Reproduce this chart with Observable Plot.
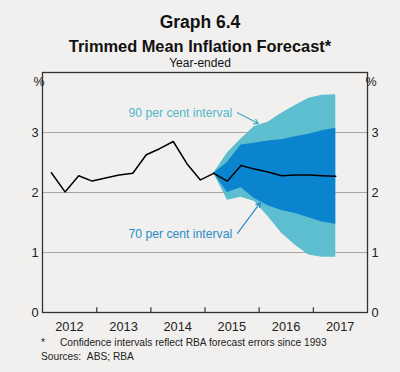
<!DOCTYPE html>
<html>
<head>
<meta charset="utf-8">
<script src="https://cdn.jsdelivr.net/npm/d3@7"></script>
<script src="https://cdn.jsdelivr.net/npm/@observablehq/plot@0.6"></script>
<style>
  html, body { margin: 0; padding: 0; }
  body { width: 400px; height: 372px; background: #f1f0ee; position: relative; overflow: hidden;
         font-family: "Liberation Sans", Arial, sans-serif; color: #111; }
  .t { position: absolute; left: 0; width: 400px; text-align: center; line-height: 1; white-space: nowrap; }
  #chart { position: absolute; left: 0; top: 60px; }
  .f { position: absolute; line-height: 1; white-space: nowrap; font-size: 10.2px; color: #222; }
</style>
</head>
<body>
<div class="t" style="top:14px;font-size:17.5px;font-weight:bold;">Graph 6.4</div>
<div class="t" style="top:38px;font-size:16.4px;font-weight:bold;">Trimmed Mean Inflation Forecast*</div>
<div class="t" style="top:57px;font-size:12px;">Year-ended</div>
<div id="chart"></div>
<div class="f" style="left:41px;top:338px;">*</div>
<div class="f" style="left:60px;top:338px;">Confidence intervals reflect RBA forecast errors since 1993</div>
<div class="f" style="left:41px;top:352px;">Sources:&nbsp;&nbsp;ABS; RBA</div>
<script>
// ---- data ----
const actualDates = ["2012-03-01","2012-06-01","2012-09-01","2012-12-01","2013-03-01","2013-06-01",
  "2013-09-01","2013-12-01","2014-03-01","2014-06-01","2014-09-01","2014-12-01","2015-03-01"];
const actualValues = [2.33, 2.01, 2.28, 2.19, 2.24, 2.29, 2.32, 2.63, 2.73, 2.85, 2.48, 2.21, 2.32];

const forecastDates = ["2015-03-01","2015-06-01","2015-09-01","2015-12-01","2016-03-01",
  "2016-06-01","2016-09-01","2016-12-01","2017-03-01","2017-06-01"];
const forecastCentral = [2.32, 2.19, 2.45, 2.39, 2.34, 2.28, 2.29, 2.29, 2.28, 2.27];
const upper90 = [2.32, 2.66, 2.89, 3.10, 3.17, 3.32, 3.45, 3.57, 3.62, 3.63];
const upper70 = [2.32, 2.50, 2.79, 2.82, 2.86, 2.88, 2.93, 2.97, 3.03, 3.07];
const lower70 = [2.32, 2.00, 2.08, 1.90, 1.78, 1.70, 1.65, 1.58, 1.51, 1.47];
const lower90 = [2.32, 1.87, 1.92, 1.85, 1.60, 1.32, 1.12, 0.96, 0.92, 0.92];

const yearBoundaries = ["2013-01-01","2014-01-01","2015-01-01","2016-01-01","2017-01-01"];
const yearLabelDates = ["2012-07-01","2013-07-01","2014-07-01","2015-07-01","2016-07-01","2017-07-01"];
const yTicks = [0, 1, 2, 3];
const gridValues = [1, 2, 3];
const intervalLabels = ["90 per cent interval", "70 per cent interval"];

// ---- build tables ----
const parse = s => new Date(s + "T00:00:00Z");
const actual = actualDates.map((d, i) => ({date: parse(d), value: actualValues[i]}));
const fan = forecastDates.map((d, i) => ({
  date: parse(d), central: forecastCentral[i],
  hi90: upper90[i], hi70: upper70[i], lo70: lower70[i], lo90: lower90[i]
}));

const chart = Plot.plot({
  width: 400,
  height: 280,
  marginLeft: 42,
  marginRight: 33,
  marginTop: 12,
  marginBottom: 28,
  style: {background: "transparent", fontFamily: "Liberation Sans, Arial, sans-serif", fontSize: "12.8px", color: "#222"},
  x: {type: "utc", domain: [parse("2012-01-01"), parse("2018-01-01")],
      ticks: yearLabelDates.map(parse), tickSize: 0, tickPadding: 9, tickFormat: "%Y", label: null},
  y: {domain: [0, 4], ticks: yTicks, tickSize: 0, tickPadding: 4, axis: "both", label: null,
      tickFormat: d => String(d)},
  marks: [
    Plot.ruleY(gridValues, {stroke: "#a6a6a6", strokeWidth: 1.2}),
    Plot.areaY(fan, {x: "date", y1: "lo90", y2: "hi90", fill: "#5dbecf"}),
    Plot.areaY(fan, {x: "date", y1: "lo70", y2: "hi70", fill: "#0b84cf"}),
    Plot.line(actual, {x: "date", y: "value", stroke: "#000", strokeWidth: 1.5}),
    Plot.line(fan, {x: "date", y: "central", stroke: "#000", strokeWidth: 1.5}),
    Plot.ruleX(yearBoundaries.map(parse), {y1: 0, y2: 0.08, stroke: "#333", strokeWidth: 1.2}),
    Plot.frame({stroke: "#333", strokeWidth: 1.3}),
    Plot.text(["%"], {frameAnchor: "top-left", dx: -9, dy: 5, fontSize: 12.5, fill: "#222"}),
    Plot.text(["%"], {frameAnchor: "top-right", dx: 9, dy: 5, fontSize: 12.5, fill: "#222"}),
    Plot.text([{d: parse("2013-08-03"), v: 3.33, t: intervalLabels[0]}],
      {x: "d", y: "v", text: "t", textAnchor: "start", fill: "#52b8c9", fontSize: 12.2}),
    Plot.text([{d: parse("2013-08-03"), v: 1.30, t: intervalLabels[1]}],
      {x: "d", y: "v", text: "t", textAnchor: "start", fill: "#2a8cc8", fontSize: 12.2}),
    Plot.arrow([{x1: parse("2015-08-08"), y1: 3.33, x2: parse("2015-12-27"), y2: 3.15}],
      {x1: "x1", y1: "y1", x2: "x2", y2: "y2", stroke: "#45a9bd", strokeWidth: 1.2, headLength: 6}),
    Plot.arrow([{x1: parse("2015-08-08"), y1: 1.32, x2: parse("2016-01-09"), y2: 1.83}],
      {x1: "x1", y1: "y1", x2: "x2", y2: "y2", stroke: "#2a8cc8", strokeWidth: 1.2, headLength: 6})
  ]
});
document.getElementById("chart").appendChild(chart);
</script>
</body>
</html>
